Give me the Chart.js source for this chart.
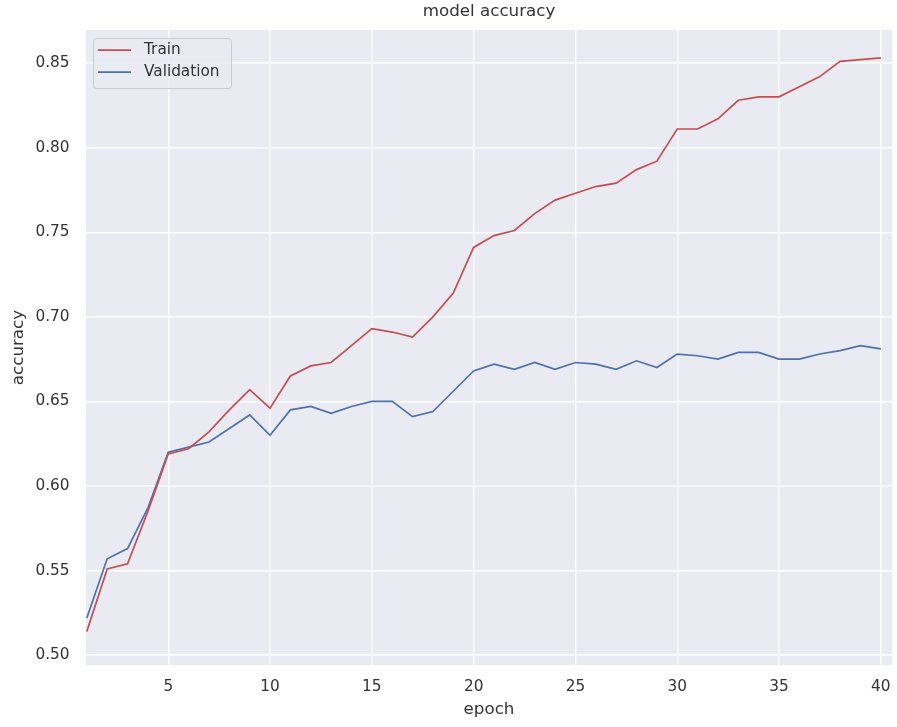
<!DOCTYPE html>
<html>
<head>
<meta charset="utf-8">
<script src="https://cdn.jsdelivr.net/npm/chart.js@4.4.1/dist/chart.umd.min.js"></script>
<style>
  html, body { margin: 0; padding: 0; background: #ffffff; }
  #wrap { width: 897px; height: 727px; }
</style>
</head>
<body>
<div id="wrap"><canvas id="chart" width="897" height="727"></canvas></div>
<script>
// Training history: accuracy per epoch
const epochs = [1, 2, 3, 4, 5, 6, 7, 8, 9, 10, 11, 12, 13, 14, 15, 16, 17, 18, 19, 20,
                21, 22, 23, 24, 25, 26, 27, 28, 29, 30, 31, 32, 33, 34, 35, 36, 37, 38, 39, 40];
const trainAcc = [0.514, 0.551, 0.554, 0.585, 0.619, 0.622, 0.632, 0.645, 0.657, 0.646,
                  0.665, 0.671, 0.673, 0.683, 0.693, 0.691, 0.688, 0.700, 0.714, 0.741,
                  0.748, 0.751, 0.761, 0.769, 0.773, 0.777, 0.779, 0.787, 0.792, 0.811,
                  0.811, 0.817, 0.828, 0.830, 0.830, 0.836, 0.842, 0.851, 0.852, 0.853];
const valAcc = [0.522, 0.557, 0.563, 0.587, 0.620, 0.623, 0.626, 0.634, 0.642, 0.630,
                0.645, 0.647, 0.643, 0.647, 0.650, 0.650, 0.641, 0.644, 0.656, 0.668,
                0.672, 0.669, 0.673, 0.669, 0.673, 0.672, 0.669, 0.674, 0.670, 0.678,
                0.677, 0.675, 0.679, 0.679, 0.675, 0.675, 0.678, 0.680, 0.683, 0.681];
const seriesNames = ['Train', 'Validation'];
const xTicks = [5, 10, 15, 20, 25, 30, 35, 40];
const yTicks = [0.50, 0.55, 0.60, 0.65, 0.70, 0.75, 0.80, 0.85];

const FONT = "'DejaVu Sans', sans-serif";
const TEXT = '#333333';
const PANEL = '#EAEAF2';

// Grey panel behind the plotting area
const panelBackground = {
  id: 'panelBackground',
  beforeDraw(chart) {
    const { ctx, chartArea: a } = chart;
    ctx.save();
    ctx.fillStyle = PANEL;
    ctx.fillRect(a.left, a.top, a.right - a.left, a.bottom - a.top);
    ctx.restore();
  }
};

// Framed legend in the upper-left corner of the panel
const framedLegend = {
  id: 'framedLegend',
  afterDatasetsDraw(chart) {
    const { ctx, chartArea: a } = chart;
    const x0 = a.left + 7, y0 = a.top + 8, w = 138, h = 50, r = 3;
    ctx.save();
    ctx.beginPath();
    ctx.roundRect(x0 + 0.5, y0 + 0.5, w, h, r);
    ctx.fillStyle = 'rgba(234,234,242,0.85)';
    ctx.fill();
    ctx.strokeStyle = '#CCCCCC';
    ctx.lineWidth = 1;
    ctx.stroke();
    ctx.font = '15.3px ' + FONT;
    ctx.textBaseline = 'middle';
    ctx.textAlign = 'left';
    chart.data.datasets.forEach((ds, i) => {
      const y = y0 + 12 + i * 22;
      ctx.beginPath();
      ctx.moveTo(x0 + 5, y);
      ctx.lineTo(x0 + 38, y);
      ctx.strokeStyle = ds.borderColor;
      ctx.lineWidth = ds.borderWidth;
      ctx.stroke();
      ctx.fillStyle = TEXT;
      ctx.fillText(ds.label, x0 + 51, y);
    });
    ctx.restore();
  }
};

const toPoints = (ys) => epochs.map((e, i) => ({ x: e, y: ys[i] }));

new Chart(document.getElementById('chart'), {
  type: 'line',
  data: {
    datasets: [
      { label: seriesNames[0], data: toPoints(trainAcc), borderColor: '#C44E52', borderWidth: 1.7,
        pointRadius: 0, pointHoverRadius: 0, tension: 0, fill: false },
      { label: seriesNames[1], data: toPoints(valAcc), borderColor: '#4C72B0', borderWidth: 1.7,
        pointRadius: 0, pointHoverRadius: 0, tension: 0, fill: false }
    ]
  },
  options: {
    responsive: false,
    devicePixelRatio: 1,
    animation: false,
    layout: { padding: { left: 0, right: 5, top: 0, bottom: 0 } },
    plugins: {
      legend: { display: false },
      tooltip: { enabled: false },
      title: {
        display: true,
        fullSize: false,
        text: 'model accuracy',
        color: TEXT,
        font: { family: FONT, size: 16.7, weight: 'normal', lineHeight: 1.2 },
        padding: { top: 2, bottom: 8 }
      }
    },
    scales: {
      x: {
        type: 'linear',
        min: 0.96,
        max: 40.55,
        afterBuildTicks(scale) { scale.ticks = xTicks.map(v => ({ value: v })); },
        afterFit(scale) { scale.height = 62; scale.paddingLeft = 0; scale.paddingRight = 0; },
        grid: { color: '#FFFFFF', lineWidth: 1.4, drawTicks: false },
        border: { display: false },
        ticks: {
          color: TEXT,
          padding: 12.8,
          maxRotation: 0,
          font: { family: FONT, size: 15.3, lineHeight: 1.2 },
          callback: (v) => String(v)
        },
        title: {
          display: true,
          text: 'epoch',
          color: TEXT,
          font: { family: FONT, size: 16.7, lineHeight: 1.2 },
          padding: { top: 0, bottom: 7 }
        }
      },
      y: {
        min: 0.4942,
        max: 0.8695,
        afterBuildTicks(scale) { scale.ticks = yTicks.map(v => ({ value: v })); },
        afterFit(scale) { scale.width = 86; },
        grid: { color: '#FFFFFF', lineWidth: 1.4, drawTicks: false },
        border: { display: false },
        ticks: {
          color: TEXT,
          padding: 16.5,
          font: { family: FONT, size: 15.3, lineHeight: 1.2 },
          callback: (v) => Number(v).toFixed(2)
        },
        title: {
          display: true,
          text: 'accuracy',
          color: TEXT,
          font: { family: FONT, size: 16.7, lineHeight: 1.2 },
          padding: { top: 9, bottom: 0 }
        }
      }
    }
  },
  plugins: [panelBackground, framedLegend]
});
</script>
</body>
</html>
